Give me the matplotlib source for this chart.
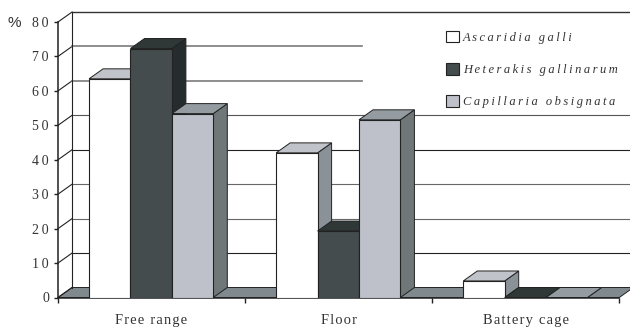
# -*- coding: utf-8 -*-

# parasite prevalence by housing system, drawn as a pseudo 3D bar chart
from matplotlib import pyplot as plt

# categories and values
systems = ["Free range", "Floor", "Battery cage"]
parasites = ["Ascaridia galli", "Heterakis gallinarum", "Capillaria obsignata"]
ascaridia = [63.5, 42, 4.8]
heterakis = [72.3, 19.3, 0]
capillaria = [53.4, 51.6, 0]
y_ticks = [0, 10, 20, 30, 40, 50, 60, 70, 80]

# colours of each series: front, top, side
front = ["#ffffff", "#444c4d", "#bec1ca"]
top = ["#c0c3ca", "#2f3737", "#959ca1"]
side = ["#8a9297", "#262c2d", "#6f7779"]
floor_col = "#808a8e"
edge = "#222222"

# depth of the box and bar layout, in axis units
dx = 0.075
dy = 2.9
start = 0.166
w = 0.2213


def spaced(s, gap="\u200a"):
    # wide letter spacing used for all the labels
    return gap.join(s)


plt.rcParams['font.family'] = ['Liberation Serif', 'DejaVu Sans']

fig = plt.figure(figsize=(6.3, 3.29), dpi=100)
ax = fig.add_axes([58 / 630, 1 - 297.5 / 329, 561.3 / 630, 275.5 / 329])
ax.set_xlim(0, 3)
ax.set_ylim(0, 80)
ax.spines['top'].set_visible(False)
ax.spines['right'].set_visible(False)
for s in ['left', 'bottom']:
    ax.spines[s].set_color(edge)
    ax.spines[s].set_linewidth(1.1)

# floor of the box
ax.fill([0, 3, 3 + dx, dx], [0, 0, dy, dy], facecolor=floor_col,
        edgecolor=edge, linewidth=0.7, zorder=1, clip_on=False)

# back wall lines, the 60 and 70 lines stop behind the legend
grid_cols = ["#222222", "#222222", "#666666", "#666666", "#222222",
             "#555555", "#7a7a7a", "#7a7a7a", "#333333"]
grid_lws = [0.7, 0.8, 0.8, 0.8, 0.8, 0.8, 1.2, 1.2, 1.0]
for i, t in enumerate(y_ticks):
    ax.plot([0, dx], [t, t + dy], color=edge, lw=0.8, zorder=1.5, clip_on=False)
    if t == 0:
        continue
    x_end = 1.625 if t in (60, 70) else 3.1
    ax.plot([dx, x_end], [t + dy, t + dy], color=grid_cols[i], lw=grid_lws[i],
            zorder=1.5, clip_on=False)
ax.plot([dx, dx], [dy, 80 + dy], color=edge, lw=0.8, zorder=1.5, clip_on=False)

# bars, each series on top of the one before it
series = [ascaridia, heterakis, capillaria]
for j, vals in enumerate(series):
    for i, v in enumerate(vals):
        x0 = i + start + j * w
        x1 = x0 + w
        ax.fill([x1, x1 + dx, x1 + dx, x1], [0, dy, v + dy, v],
                facecolor=side[j], edgecolor=edge, linewidth=0.7,
                zorder=3 + j, clip_on=False)
        ax.fill([x0, x1, x1 + dx, x0 + dx], [v, v, v + dy, v + dy],
                facecolor=top[j], edgecolor=edge, linewidth=0.7,
                zorder=3 + j, clip_on=False)
    ax.bar([i + start + j * w for i in range(3)], vals, width=w, align='edge',
           color=front[j], edgecolor=edge, linewidth=0.8, zorder=3 + j,
           label=spaced(parasites[j], "\u2009"))

# axis ticks and labels
ax.set_yticks(y_ticks)
ax.set_yticklabels([spaced(str(t), "\u2009") for t in y_ticks], fontsize=10, color="#333333")
ax.tick_params(axis='y', length=3, width=1.0, pad=3.5, color=edge)
ax.set_xticks([0, 1, 2, 3])
ax.set_xticklabels([])
ax.tick_params(axis='x', which='major', length=3.5, width=1.0, color=edge)
ax.set_xticks([0.5, 1.5, 2.5], minor=True)
ax.set_xticklabels([spaced(s) for s in systems], minor=True, fontsize=10.4, color="#333333")
ax.tick_params(axis='x', which='minor', length=0, pad=12)

fig.text(8 / 630, 1 - 23 / 329, "%", family='Liberation Sans', fontsize=11,
         color="#333333", va='center', ha='left')

# legend
handles, labels = ax.get_legend_handles_labels()
leg = ax.legend(handles, labels, loc='upper left',
                bbox_to_anchor=(446 / 630, 1 - 30.5 / 329),
                bbox_transform=fig.transFigure, frameon=False, borderpad=0,
                borderaxespad=0, fontsize=9, handlelength=1.05, handleheight=1.05,
                handletextpad=0.3, labelspacing=1.55)
for txt in leg.get_texts():
    txt.set_style('italic')
    txt.set_color("#333333")
leg.set_zorder(10)

plt.savefig("out.png", dpi=100)
